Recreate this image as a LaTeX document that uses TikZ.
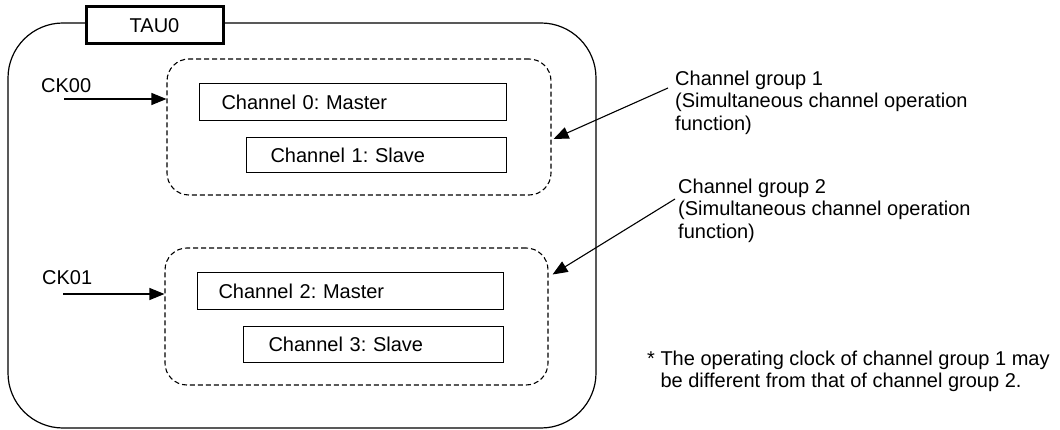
\documentclass[tikz,border=0pt]{standalone}
\usepackage{fontspec}
\setmainfont{Liberation Sans}
\usetikzlibrary{arrows.meta}
\frenchspacing
\begin{document}
\begin{tikzpicture}[x=1pt,y=-1pt,
  every node/.style={font=\fontsize{20}{22.5}\selectfont},
  outerbox/.style={draw, line width=1.2pt, rounded corners=55pt, minimum width=588pt, minimum height=405pt, inner sep=0pt},
  titlebox/.style={draw, fill=white, line width=3pt, minimum width=137pt, minimum height=37pt, inner sep=0pt},
  groupbox/.style={draw, dash pattern=on 5pt off 3pt, line width=1.1pt, rounded corners=22pt, inner sep=0pt},
  chbox/.style={draw, line width=1.1pt, anchor=north west, align=left, inner ysep=0pt},
  clocklabel/.style={anchor=base west, inner sep=0pt},
  pointer/.style={-{Triangle[length=15pt,width=12pt]}, line width=1.1pt},
  notetext/.style={anchor=north west, align=left, inner sep=0pt}
]
\useasboundingbox (0,0) rectangle (1060,430);
\fill[white] (0,0) rectangle (1060,430);

% outer TAU0 block
\node[outerbox] (outer) at (302,225.5) {};
\node[titlebox] (tau) at (154.5,25.5) {TAU0};

% channel groups
\node[groupbox, minimum width=384pt, minimum height=136pt] (g1) at (359,127) {};
\node[groupbox, minimum width=383pt, minimum height=137pt] (g2) at (356.5,316.5) {};

% channels
\node[chbox, minimum height=37pt, text width=263pt, inner xsep=22pt] (ch0) at (199,83) {Channel 0: Master};
\node[chbox, minimum height=35pt, text width=212pt, inner xsep=24pt] (ch1) at (246,137) {Channel 1: Slave};
\node[chbox, minimum height=37pt, text width=264pt, inner xsep=21pt] (ch2) at (197,272) {Channel 2: Master};
\node[chbox, minimum height=36pt, text width=210pt, inner xsep=25pt] (ch3) at (243,326) {Channel 3: Slave};

% clocks
\node[clocklabel] (ck0) at (41,93) {CK00};
\node[clocklabel] (ck1) at (42,285) {CK01};
\coordinate (c0) at (64,99);
\coordinate (c1) at (63,294);
\draw[pointer] (c0) -- (c0 -| g1.west);
\draw[pointer] (c1) -- (c1 -| g2.west);

% annotations
\node[notetext] (lab1) at (675,70.5) {Channel group 1\\(Simultaneous channel operation\\function)};
\node[notetext] (lab2) at (678,178.5) {Channel group 2\\(Simultaneous channel operation\\function)};
\coordinate (t1) at (668,88);
\coordinate (t2) at (675,199);
\draw[pointer] (t1) -- ([shift={(2,12)}]g1.east);
\draw[pointer] (t2) -- ([shift={(4,-42)}]g2.east);

\node[notetext] (note) at (647,350.5) {* The operating clock of channel group 1 may\\\phantom{*} be different from that of channel group 2.};
\end{tikzpicture}
\end{document}
